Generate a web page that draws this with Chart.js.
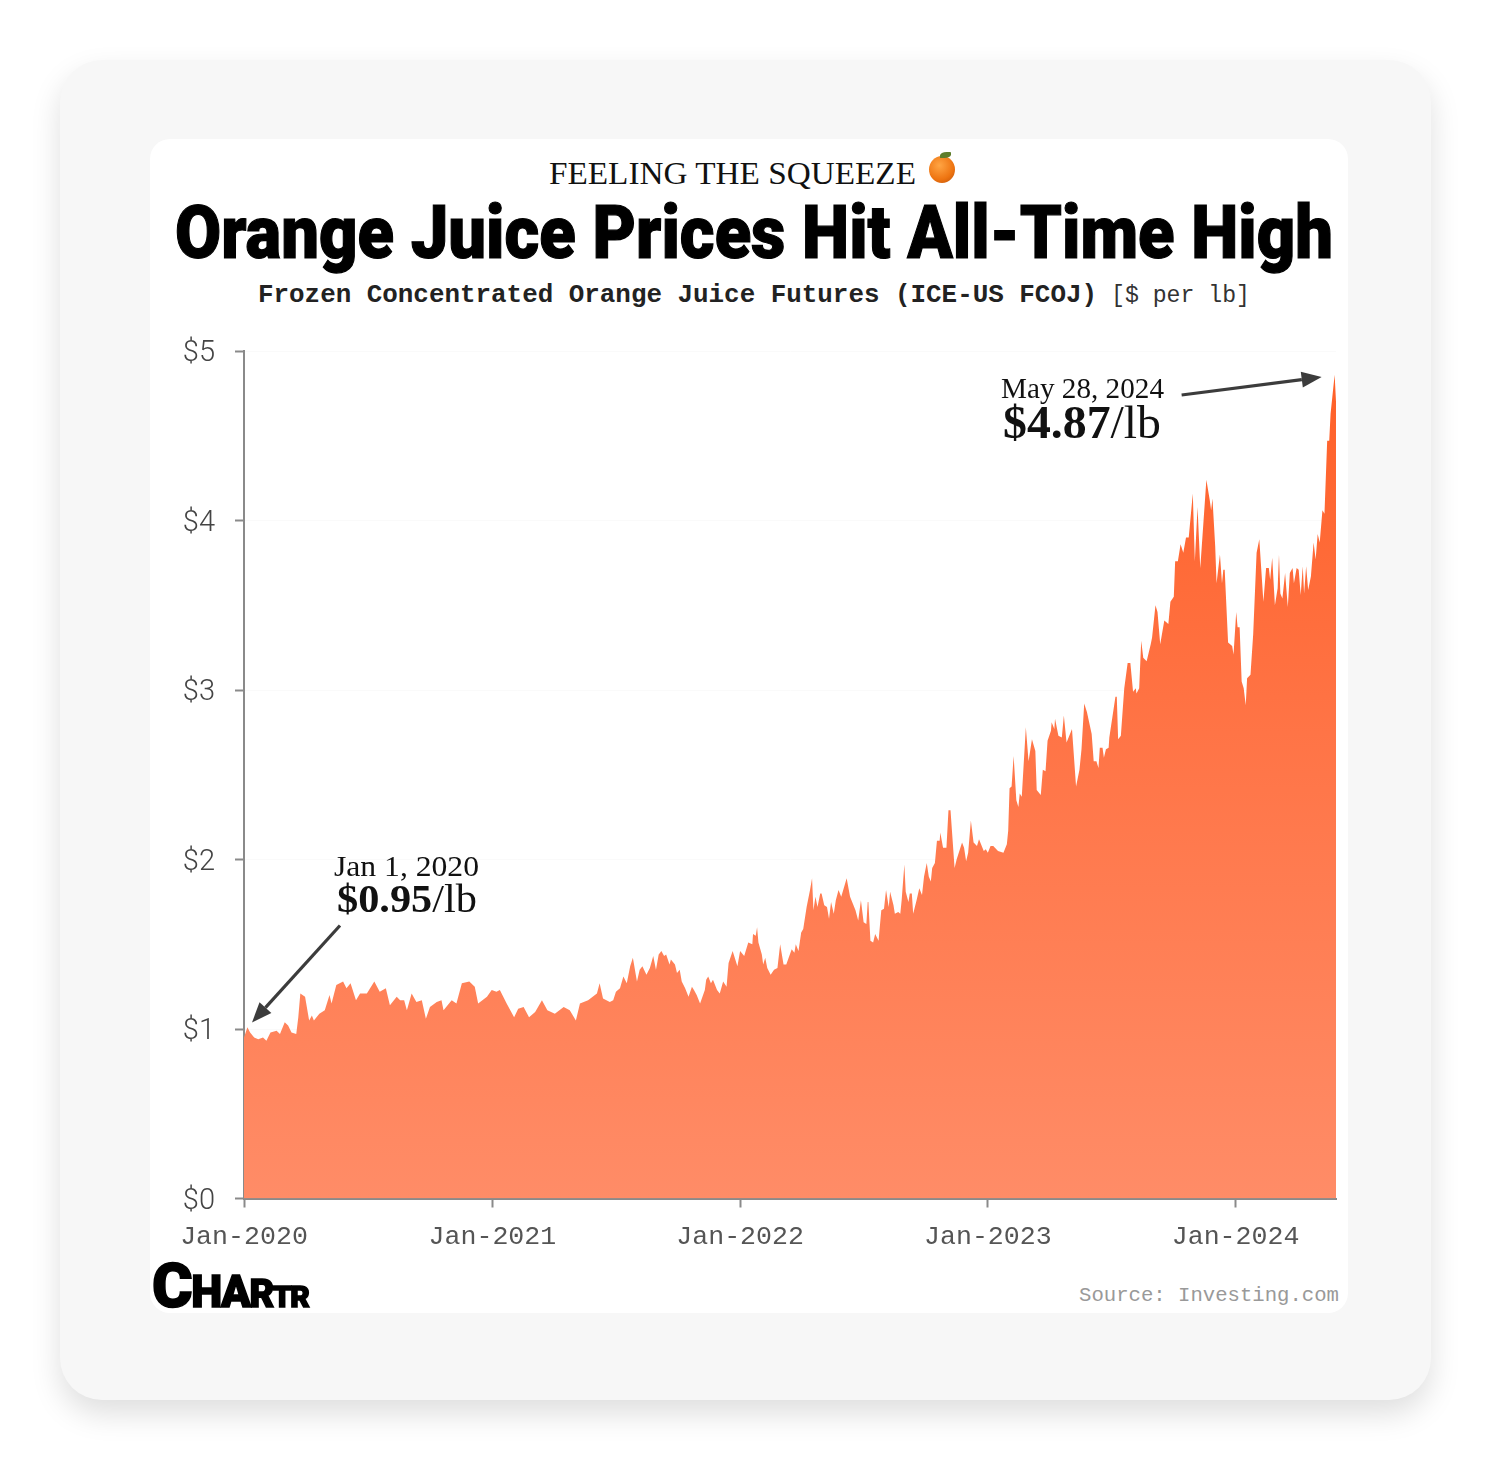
<!DOCTYPE html>
<html>
<head>
<meta charset="utf-8">
<title>Orange Juice Prices Hit All-Time High</title>
<script src="https://cdn.jsdelivr.net/npm/chart.js@4"></script>
<style>
    html, body { margin: 0; padding: 0; background: #fff; }
    #page { position: relative; width: 1491px; height: 1461px; overflow: hidden; }
    #outer { position: absolute; left: 60px; top: 60px; width: 1371px; height: 1340px; background: #f7f7f7; border-radius: 42px; box-shadow: 0 14px 30px rgba(0,0,0,0.13); }
    #inner { position: absolute; left: 150px; top: 139px; width: 1198px; height: 1174px; background: #fff; border-radius: 20px; }
    canvas { position: absolute; left: 150px; top: 330px; }
    .txt { position: absolute; white-space: nowrap; transform-origin: left top; line-height: 1; color: #111; }
    .serif { font-family: "Liberation Serif", serif; }
    .mono { font-family: "Liberation Mono", monospace; }
    #orange { position: absolute; left: 929px; top: 156px; width: 26px; height: 27px; border-radius: 50%; background: radial-gradient(circle at 40% 35%, #ffa544, #ee7411 60%, #b84f08); }
    #leaf { position: absolute; left: 940px; top: 152px; width: 11px; height: 6px; border-radius: 60% 10%; background: #5e7d2b; }
</style>
</head>
<body>
<div id="page">
    <div id="outer"></div>
    <div id="inner"></div>
    <canvas id="priceChart" width="1198" height="950"></canvas>

    <div class="txt serif" data-w="367" style="left:549px;top:157px;font-size:32px">FEELING THE SQUEEZE</div>
    <div id="orange"></div><div id="leaf"></div>
    <div class="txt" data-w="1158" style="left:175px;top:195px;font-size:75px;font-family:Roboto,sans-serif;font-weight:900;color:#000;-webkit-text-stroke:1.2px #000">Orange Juice Prices Hit All-Time High</div>
    <div class="txt mono" data-w="839" style="left:258px;top:282px;font-size:26px;font-weight:700;color:#222">Frozen Concentrated Orange Juice Futures (ICE-US FCOJ)</div>
    <div class="txt mono" data-w="139" style="left:1111px;top:285px;font-size:23px;color:#333">[$ per lb]</div>

    <div class="txt serif" data-w="145" style="left:334px;top:851px;font-size:30px">Jan 1, 2020</div>
    <div class="txt serif" data-w="140" style="left:337px;top:878px;font-size:41px"><b>$0.95</b>/lb</div>
    <div class="txt serif" data-w="163" style="left:1001px;top:373px;font-size:30px">May 28, 2024</div>
    <div class="txt serif" data-w="158" style="left:1003px;top:400px;font-size:46px"><b>$4.87</b>/lb</div>

    <div class="txt" style="left:152px;top:1255px;font-family:Roboto,sans-serif;font-weight:900;color:#000;-webkit-text-stroke:1.5px #000;letter-spacing:-1.5px"><span style="font-size:62px">C</span><span style="font-size:44px">HA</span><span style="font-size:38px">R</span><span style="font-size:30px">TR</span></div>
    <div class="txt mono" data-w="260" style="left:1079px;top:1286px;font-size:20.6px;color:#999">Source: Investing.com</div>
</div>

<script>
// days since Jan 1 2020
const priceDays = [
    0, 5, 9, 15, 21, 28, 33, 39, 48, 53, 60, 65, 70, 77, 80, 83, 90, 96, 100, 103,
    111, 119, 126, 129, 136, 146, 151, 157, 165, 171, 181, 192, 200, 209, 215, 225, 230, 236, 240, 247,
    254, 262, 268, 274, 284, 291, 294, 306, 313, 321, 332, 340, 345, 358, 365, 372, 377, 387, 398, 404,
    412, 420, 429, 439, 447, 458, 471, 480, 489, 495, 507, 520, 524, 529, 539, 544, 548,
    554, 559, 564, 569, 573, 579, 583, 587, 593, 598, 603, 607, 611, 615, 619, 622, 627, 629, 635,
    638, 642, 645, 650, 655, 660, 663, 667, 672, 679, 681, 684, 688, 691, 697, 701, 706, 711, 714, 720,
    727, 731, 737, 743, 749, 750, 754, 756, 758, 763, 765, 768, 771, 776, 781, 786, 790, 795, 799, 807,
    811, 813, 817, 821, 824, 829, 834, 837, 839, 842, 845, 849, 851, 855, 859, 862, 865, 869, 872, 876,
    880, 888, 893, 901, 905, 909, 913, 917, 919, 920, 923, 927, 930, 935, 939, 943, 946, 950, 952, 957,
    959, 964, 967, 969, 973, 975, 979, 981, 984, 986, 991, 995, 999, 1002, 1006, 1009, 1012, 1014, 1018, 1021,
    1025, 1026, 1030, 1035, 1038, 1041, 1047, 1050, 1058, 1061, 1064, 1067, 1071, 1075, 1080, 1083, 1090, 1093, 1096, 1100,
    1104, 1111, 1119, 1124, 1126,
    1128, 1131, 1134, 1138, 1141, 1143, 1146, 1152, 1156, 1161, 1166, 1168, 1174, 1177, 1181, 1184, 1189, 1190, 1194, 1195,
    1200, 1205, 1208, 1212, 1220, 1226, 1231, 1234, 1238, 1242, 1249, 1252, 1256, 1259, 1261, 1265, 1267, 1270, 1274, 1275,
    1284, 1286, 1288, 1292, 1297, 1302, 1306, 1310, 1314, 1315, 1319, 1322, 1325, 1330, 1333, 1336, 1338, 1343, 1346, 1350,
    1356, 1362, 1365, 1370, 1372, 1376, 1380, 1384, 1388, 1392, 1398, 1401, 1405, 1409, 1418, 1423, 1425, 1427, 1431, 1433,
    1438, 1441, 1443, 1445, 1450, 1456, 1458, 1462, 1464, 1467, 1470, 1473, 1476, 1478, 1483, 1487, 1492, 1496, 1502, 1506,
    1510, 1512, 1515, 1519, 1523, 1525, 1527, 1530, 1534, 1538, 1541, 1545, 1547, 1551, 1554, 1557, 1560, 1562, 1565, 1568,
    1572, 1576, 1579, 1582, 1585, 1589, 1592, 1596, 1599, 1601, 1607, 1609
];

const prices = [
    0.95, 1.01, 0.98, 0.95, 0.94, 0.95, 0.93, 0.98, 0.99, 0.97, 1.04, 1.02, 0.98, 0.97, 1.07, 1.21, 1.19, 1.05, 1.08, 1.05,
    1.09, 1.11, 1.20, 1.15, 1.26, 1.28, 1.24, 1.27, 1.17, 1.21, 1.21, 1.28, 1.22, 1.24, 1.14, 1.19, 1.17, 1.17, 1.11, 1.21,
    1.16, 1.17, 1.06, 1.13, 1.16, 1.17, 1.11, 1.17, 1.15, 1.27, 1.28, 1.25, 1.15, 1.19, 1.23, 1.22, 1.23, 1.15, 1.07, 1.12,
    1.13, 1.07, 1.10, 1.17, 1.11, 1.09, 1.13, 1.11, 1.05, 1.15, 1.17, 1.21, 1.27, 1.18, 1.16, 1.17, 1.22,
    1.24, 1.31, 1.27, 1.37, 1.42, 1.28, 1.35, 1.37, 1.32, 1.36, 1.43, 1.35, 1.44, 1.46, 1.43, 1.44, 1.38, 1.41, 1.38,
    1.33, 1.35, 1.28, 1.24, 1.19, 1.25, 1.23, 1.20, 1.15, 1.23, 1.29, 1.31, 1.27, 1.29, 1.23, 1.21, 1.28, 1.25, 1.39, 1.46,
    1.37, 1.46, 1.43, 1.51, 1.50, 1.56, 1.55, 1.60, 1.51, 1.44, 1.38, 1.42, 1.36, 1.32, 1.35, 1.36, 1.50, 1.38, 1.38, 1.47,
    1.45, 1.50, 1.46, 1.57, 1.59, 1.72, 1.82, 1.89, 1.70, 1.78, 1.72, 1.80, 1.80, 1.73, 1.72, 1.65, 1.75, 1.68, 1.76, 1.82,
    1.78, 1.89, 1.78, 1.70, 1.64, 1.76, 1.63, 1.62, 1.75, 1.75, 1.52, 1.51, 1.56, 1.52, 1.70, 1.71, 1.82, 1.72, 1.81, 1.73,
    1.68, 1.69, 1.68, 1.76, 1.97, 1.81, 1.75, 1.80, 1.80, 1.68, 1.76, 1.83, 1.79, 1.90, 1.98, 1.90, 1.87, 1.95, 1.98, 2.11,
    2.11, 2.16, 2.07, 2.07, 2.29, 2.29, 1.95, 2.00, 2.10, 2.07, 1.99, 2.04, 2.23, 2.10, 2.08, 2.12, 2.05, 2.06, 2.04, 2.08,
    2.08, 2.05, 2.04, 2.09, 2.17,
    2.42, 2.43, 2.61, 2.35, 2.31, 2.39, 2.37, 2.78, 2.58, 2.71, 2.64, 2.41, 2.38, 2.53, 2.52, 2.70, 2.76, 2.81, 2.77, 2.83,
    2.73, 2.72, 2.85, 2.69, 2.77, 2.43, 2.53, 2.65, 2.92, 2.87, 2.74, 2.58, 2.58, 2.54, 2.66, 2.66, 2.60, 2.65, 2.66, 2.72,
    2.96, 2.96, 2.71, 2.73, 3.01, 3.16, 3.16, 2.99, 3.01, 2.98, 3.01, 3.29, 3.19, 3.17, 3.22, 3.27, 3.31, 3.50, 3.46, 3.27,
    3.41, 3.39, 3.52, 3.55, 3.76, 3.76, 3.86, 3.81, 3.90, 3.90, 4.16, 3.76, 4.08, 3.72, 4.24, 4.12, 4.06, 4.13, 3.85, 3.63,
    3.80, 3.63, 3.71, 3.71, 3.28, 3.26, 3.21, 3.46, 3.37, 3.37, 3.05, 3.01, 2.91, 3.07, 3.09, 3.33, 3.81, 3.89, 3.52, 3.72,
    3.72, 3.65, 3.78, 3.50, 3.60, 3.80, 3.57, 3.54, 3.69, 3.49, 3.69, 3.72, 3.63, 3.72, 3.71, 3.56, 3.73, 3.57, 3.73, 3.59,
    3.67, 3.87, 3.77, 3.92, 3.87, 4.06, 4.04, 4.47, 4.47, 4.63, 4.86, 4.70
];

const tickDays = [0, 366, 731, 1096, 1461];
const tickLabels = ["Jan-2020", "Jan-2021", "Jan-2022", "Jan-2023", "Jan-2024"];
const lastDay = 1609;
const maxPrice = 5;

function areaFill(context) {
    const area = context.chart.chartArea;
    if (!area) return "#ff7a4d";
    const grad = context.chart.ctx.createLinearGradient(0, area.top, 0, area.bottom);
    grad.addColorStop(0, "#ff5f26");
    grad.addColorStop(0.45, "#ff7446");
    grad.addColorStop(1, "#ff8c67");
    return grad;
}

function drawArrow(ctx, fromX, fromY, toX, toY) {
    const angle = Math.atan2(toY - fromY, toX - fromX);
    const headLen = 20;
    const neckX = toX - Math.cos(angle) * headLen;
    const neckY = toY - Math.sin(angle) * headLen;
    ctx.strokeStyle = "#3c3c3c";
    ctx.fillStyle = "#3c3c3c";
    ctx.lineWidth = 3.2;
    ctx.beginPath();
    ctx.moveTo(fromX, fromY);
    ctx.lineTo(neckX, neckY);
    ctx.stroke();
    ctx.beginPath();
    ctx.moveTo(toX, toY);
    ctx.lineTo(neckX - Math.sin(angle) * 8, neckY + Math.cos(angle) * 8);
    ctx.lineTo(neckX + Math.sin(angle) * 8, neckY - Math.cos(angle) * 8);
    ctx.closePath();
    ctx.fill();
}

// arrows hang off the first and the peak point
const arrowPlugin = {
    id: "arrows",
    afterDatasetsDraw(chart) {
        const { ctx, scales } = chart;
        const startX = scales.x.getPixelForValue(priceDays[0]);
        const startY = scales.y.getPixelForValue(prices[0]);
        const peakX = scales.x.getPixelForValue(1607);
        const peakY = scales.y.getPixelForValue(4.87);
        ctx.save();
        drawArrow(ctx, startX + 96, startY - 112, startX + 8, startY - 15);
        drawArrow(ctx, peakX - 153, peakY + 22, peakX - 13, peakY + 4);
        ctx.restore();
    }
};

new Chart(document.getElementById("priceChart").getContext("2d"), {
    type: "line",
    data: {
        datasets: [{
            data: priceDays.map((d, i) => ({ x: d, y: prices[i] })),
            borderWidth: 0,
            pointRadius: 0,
            tension: 0,
            fill: "origin",
            backgroundColor: areaFill
        }]
    },
    options: {
        responsive: false,
        animation: false,
        layout: { padding: { top: 21, right: 12, left: 0, bottom: 0 } },
        plugins: { legend: { display: false }, tooltip: { enabled: false } },
        scales: {
            x: {
                type: "linear",
                min: 0,
                max: lastDay,
                afterBuildTicks: axis => { axis.ticks = tickDays.map(v => ({ value: v })); },
                afterFit: axis => { axis.height = 81.5; },
                grid: { drawOnChartArea: false, tickColor: "#8a8a8a", tickLength: 9, tickWidth: 2 },
                border: { color: "#8a8a8a", width: 2 },
                ticks: {
                    autoSkip: false,
                    maxRotation: 0,
                    padding: 13,
                    color: "#555",
                    font: { family: "Liberation Mono", size: 26.6 },
                    callback: v => tickLabels[tickDays.indexOf(v)]
                }
            },
            y: {
                min: 0,
                max: maxPrice,
                afterFit: axis => { axis.width = 94; axis.paddingTop = 0; axis.paddingBottom = 0; },
                grid: { color: "#fafafa", tickColor: "#8a8a8a", tickLength: 9, tickWidth: 2 },
                border: { color: "#8a8a8a", width: 2 },
                ticks: {
                    stepSize: 1,
                    padding: 20,
                    color: "#444",
                    // blank first line nudges the label down a touch
                    font: { family: "Roboto", size: 29, weight: 300, lineHeight: 0.2 },
                    callback: v => ["", "$" + v]
                }
            }
        }
    },
    plugins: [arrowPlugin]
});

// squeeze the text to the widths it has in the picture
document.querySelectorAll(".txt[data-w]").forEach(el => {
    const natural = el.getBoundingClientRect().width;
    el.style.transform = "scaleX(" + (Number(el.dataset.w) / natural) + ")";
});
</script>
</body>
</html>
